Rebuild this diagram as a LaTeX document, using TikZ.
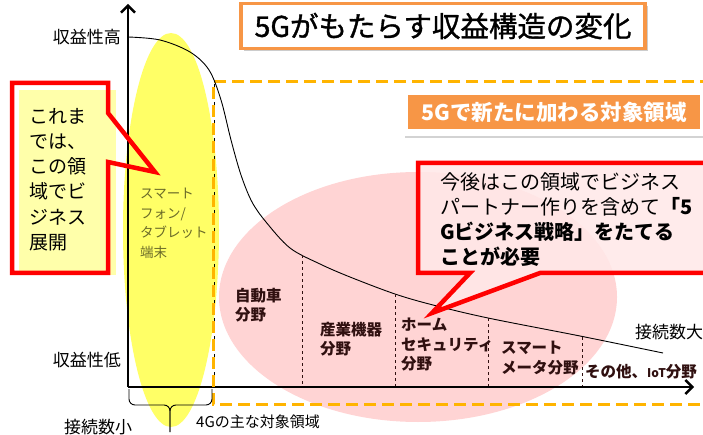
\documentclass[tikz,border=0pt]{standalone}
\usepackage{fontspec}
\setmainfont{Noto Sans CJK JP}
\newfontfamily\titlefont[FakeBold=1.2]{Noto Sans CJK JP}
\usepackage{xcolor}
\usetikzlibrary{calc,positioning,decorations.pathreplacing,shadows,arrows.meta}

\definecolor{dashorange}{HTML}{FFB400}
\definecolor{titleorange}{HTML}{F79646}
\definecolor{areapink}{HTML}{FFD4D4}
\definecolor{calloutpink}{HTML}{FFE8E8}
\definecolor{phoneyellow}{HTML}{FFFF66}
\definecolor{paleyellow}{HTML}{FFFFAA}
\definecolor{olivetext}{HTML}{6A6A28}
\definecolor{catbrown}{HTML}{301010}
\newcommand{\jfs}[2]{\fontsize{#1}{#2}\selectfont}

\tikzset{
  axisline/.style={line width=2.4pt, -{Straight Barb[length=7pt,width=14pt,line width=2.4pt]}},
  divider/.style={dashed, line width=1pt, catbrown},
  cattext/.style={font=\bfseries\jfs{15.5}{19.5}, text=catbrown, align=left, anchor=north west, inner sep=0pt},
  axislabel/.style={font=\jfs{17}{20}, inner sep=0pt},
  callout/.style={draw=red, line width=4.5pt, line join=miter}
}

\begin{document}
\begin{tikzpicture}[x=1pt, y=-1pt]
\useasboundingbox (0,0) rectangle (703,435);
\clip (0,0) rectangle (703,435);

% background areas
\fill[phoneyellow] (171,230) ellipse [x radius=48, y radius=197];
\fill[areapink] (418,297) ellipse [x radius=199, y radius=125];

% axes
\coordinate (o) at (128,387);
\coordinate (ytop) at (128,4);
\coordinate (xend) at (694,387);
\draw[axisline] (o) -- (ytop);
\draw[axisline] (o) -- (xend);

% 5G area frame
\draw[dashed, line width=0.6pt] (214,84) -- (214,386);
\draw[dashorange, line width=3pt, dash pattern=on 12pt off 6pt]
  (712,82) -- (213,82) -- (213,404) -- (712,404);

% revenue curve
\draw[line width=0.9pt] plot[smooth, tension=0.55] coordinates {
  (128,37) (160,40) (190,52) (209,70) (221,100) (231,140) (241,175)
  (252,202) (266,222) (290,248) (320,264) (350,277) (395,294)
  (433,305) (488,318) (580,336) (663,353)};

% dividers between fields
\foreach \x/\y in {302/255, 395/294, 488/318, 582/337} {
  \coordinate (top\x) at (\x,\y);
  \coordinate (bot\x) at (\x,386);
  \draw[divider] (top\x) -- (bot\x);
}

% axis labels
\node[axislabel, anchor=east] (high) at (121,37) {収益性高};
\node[axislabel, anchor=east] (low) at (121,360) {収益性低};
\node[axislabel] (few) at (98,427) {接続数小};
\node[axislabel, anchor=west] (many) at (635,332) {接続数大};

% 4G brace
\coordinate (bl) at (129,389);
\coordinate (br) at (212,389);
\coordinate (bmid) at (170,405);
\coordinate (btip) at (170,432);
\draw[line width=0.9pt, rounded corners=6pt] (bl) |- (bmid) -- (btip);
\draw[line width=0.9pt, rounded corners=6pt] (br) |- (bmid) -- (btip);
\node[font=\jfs{15}{18}, anchor=west, inner sep=0pt] (g4) at (196,422) {4Gの主な対象領域};

% smartphone label
\node[font=\jfs{13.5}{19.5}, text=olivetext, align=left, anchor=north west, inner sep=0pt] (phone) at (140,188)
  {スマート\\フォン/\\タブレット\\端末};

% fields
\node[cattext] (car) at (235,288) {自動車\\分野};
\node[cattext] (ind) at (320,322) {産業機器\\分野};
\node[cattext] (home) at (401,318) {ホーム\\セキュリティ\\分野};
\node[cattext] (meter) at (501,341) {スマート\\メータ分野};
\node[cattext] (other) at (585,364) {その他、{\jfs{12}{15}IoT}分野};

% left callout
\fill[paleyellow] (19,90) rectangle (116,275);
\coordinate (lc1) at (12,83);
\coordinate (lc2) at (108,83);
\coordinate (lc3) at (108,113);
\coordinate (ltip) at (155,172);
\coordinate (lc4) at (108,162);
\coordinate (lc5) at (108,273);
\coordinate (lc6) at (12,273);
\draw[callout] (lc1) -- (lc2) -- (lc3) -- (ltip) -- (lc4) -- (lc5) -- (lc6) -- cycle;
\node[font=\jfs{19}{25.2}, align=left, anchor=north west, inner sep=0pt] (before) at (29,108)
  {これま\\では、\\この領\\域でビ\\ジネス\\展開};

% right callout
\coordinate (rc1) at (418,163);
\coordinate (rc2) at (712,163);
\coordinate (rc3) at (712,273);
\coordinate (rc4) at (540,273);
\coordinate (rtip) at (432,313);
\coordinate (rc5) at (470,273);
\coordinate (rc6) at (418,273);
\draw[callout, fill=calloutpink, fill opacity=0.85]
  (rc1) -- (rc2) -- (rc3) -- (rc4) -- (rtip) -- (rc5) -- (rc6) -- cycle;
\node[font=\jfs{20}{25}, align=left, anchor=north west, inner sep=0pt] (future) at (440,172)
  {今後はこの領域でビジネス\\パートナー作りを含めて{\bfseries「5}\\
   {\bfseries Gビジネス戦略」をたてる}\\{\bfseries ことが必要}};

% 5G area label
\fill[white, drop shadow={shadow xshift=2pt, shadow yshift=-2pt, opacity=0.35}] (403,88) rectangle (703,136);
\node[fill=titleorange, text=white, font=\bfseries\jfs{21.5}{24}, minimum width=292, minimum height=34,
  anchor=north west, inner sep=0pt] (newarea) at (408,95) {5Gで新たに加わる対象領域};

% title
\node[draw=titleorange, line width=3.5pt, fill=white, minimum width=404, minimum height=45,
  font=\titlefont\jfs{28.5}{30}, drop shadow={shadow xshift=3pt, shadow yshift=-3pt, opacity=0.4}] (title) at (443,26)
  {5Gがもたらす収益構造の変化};
\end{tikzpicture}
\end{document}
